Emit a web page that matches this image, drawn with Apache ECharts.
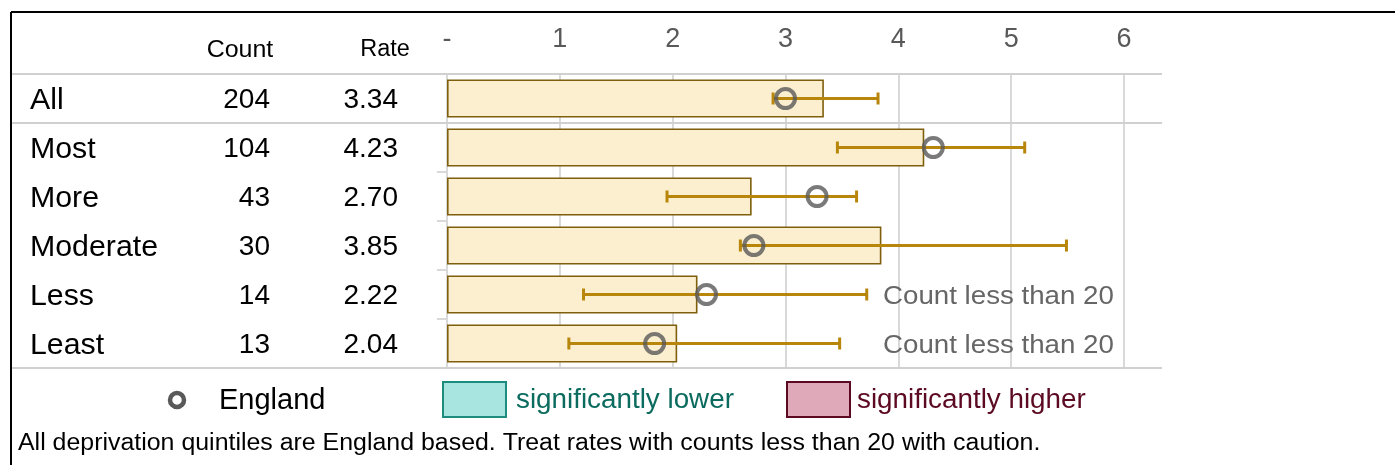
<!DOCTYPE html>
<html>
<head>
<meta charset="utf-8">
<script src="https://cdn.jsdelivr.net/npm/echarts@6/dist/echarts.min.js"></script>
<style>
  html, body { margin: 0; padding: 0; background: #fff; }
  #chart { width: 1395px; height: 465px; }
</style>
</head>
<body>
<div id="chart"></div>
<script>
// Deprivation quintile rates with 95% confidence intervals and England comparator
const categories = ['All', 'Most', 'More', 'Moderate', 'Less', 'Least'];
const counts = [204, 104, 43, 30, 14, 13];
const rates = [3.34, 4.23, 2.70, 3.85, 2.22, 2.04];
const lowerCI = [2.89, 3.46, 1.95, 2.60, 1.21, 1.08];
const upperCI = [3.82, 5.12, 3.63, 5.49, 3.72, 3.48];
const englandRates = [3.00, 4.31, 3.28, 2.72, 2.30, 1.84];
const xTicks = [0, 1, 2, 3, 4, 5, 6];
const headers = ['Count', 'Rate'];
const legendItems = ['England', 'significantly lower', 'significantly higher'];
const footnote = 'All deprivation quintiles are England based. Treat rates with counts less than 20 with caution.';
const smallCountNote = 'Count less than 20';
const smallCountLimit = 20;

const FONT = '"Liberation Sans", Arial, sans-serif';
const GRID_LINE = '#d9d9d9';
const BAR_FILL = '#fcefd0';
const BAR_EDGE = '#7f5f0c';
const CI_COLOR = '#b8860b';
const ENG_COLOR = '#595959';

const chart = echarts.init(document.getElementById('chart'), null, { renderer: 'canvas' });

const option = {
  animation: false,
  grid: { left: 447, right: 271, top: 74, height: 294 },
  xAxis: {
    type: 'value',
    position: 'top',
    min: 0,
    max: 6,
    interval: 1,
    axisLine: { show: false },
    axisTick: { show: false },
    axisLabel: {
      margin: 21,
      fontFamily: FONT,
      fontSize: 27,
      color: '#595959',
      formatter: v => (v === 0 ? '-' : String(xTicks[v]))
    },
    splitLine: { show: true, lineStyle: { color: GRID_LINE, width: 2 } }
  },
  yAxis: {
    type: 'category',
    inverse: true,
    data: categories,
    axisLine: { show: true, lineStyle: { color: GRID_LINE, width: 2 } },
    axisTick: { show: true, length: 10, lineStyle: { color: GRID_LINE, width: 2 } },
    axisLabel: { show: false },
    splitLine: { show: false }
  },
  series: [
    {
      type: 'bar',
      data: rates,
      barWidth: 38,
      itemStyle: { color: BAR_FILL, borderColor: BAR_EDGE, borderWidth: 1.6 },
      z: 2
    },
    {
      type: 'custom',
      z: 3,
      data: categories.map((c, i) => [i, lowerCI[i], upperCI[i]]),
      encode: { x: [1, 2], y: 0 },
      renderItem: (params, api) => {
        const i = api.value(0);
        const p0 = api.coord([api.value(1), i]);
        const p1 = api.coord([api.value(2), i]);
        const cap = 6;
        const style = { stroke: CI_COLOR, lineWidth: 3 };
        return {
          type: 'group',
          children: [
            { type: 'line', shape: { x1: p0[0], y1: p0[1], x2: p1[0], y2: p1[1] }, style },
            { type: 'line', shape: { x1: p0[0], y1: p0[1] - cap, x2: p0[0], y2: p0[1] + cap }, style },
            { type: 'line', shape: { x1: p1[0], y1: p1[1] - cap, x2: p1[0], y2: p1[1] + cap }, style }
          ]
        };
      }
    },
    {
      type: 'scatter',
      z: 4,
      data: englandRates.map((v, i) => [v, i]),
      symbol: 'circle',
      symbolSize: 19,
      itemStyle: { color: 'rgba(0,0,0,0)', borderColor: ENG_COLOR, borderWidth: 4 }
    }
  ]
};

chart.setOption(option);

// text helper: anchored text with an optional horizontal stretch
function label(text, x, y, size, color, align, stretch) {
  return {
    type: 'text',
    x, y,
    scaleX: stretch || 1,
    z: 5,
    style: { text, x: 0, y: 0, align, verticalAlign: 'middle', font: size + 'px ' + FONT, fill: color }
  };
}

// Table, frame lines, legend and footnote, positioned from the chart's own scales
function buildGraphics() {
  const g = [];
  const x6 = chart.convertToPixel({ xAxisIndex: 0 }, 6);
  const rowH = chart.convertToPixel({ yAxisIndex: 0 }, 1) - chart.convertToPixel({ yAxisIndex: 0 }, 0);
  const top = chart.convertToPixel({ yAxisIndex: 0 }, 0) - rowH / 2;
  const bottom = top + rowH * categories.length;
  const lineRight = x6 + 38;

  // outer frame
  g.push({ type: 'line', shape: { x1: 11, y1: 12, x2: 1395, y2: 12 }, style: { stroke: '#000', lineWidth: 2 }, z: 10 });
  g.push({ type: 'line', shape: { x1: 11, y1: 12, x2: 11, y2: 465 }, style: { stroke: '#000', lineWidth: 2 }, z: 10 });

  // table rules
  [top, top + rowH, bottom].forEach(y => {
    g.push({ type: 'line', shape: { x1: 11, y1: y, x2: lineRight, y2: y }, style: { stroke: '#d0d0d0', lineWidth: 2 }, z: 1 });
  });

  // column headers
  const headY = 50;
  g.push(label(headers[0], 240, headY, 24, '#000', 'center', 1.04));
  g.push(label(headers[1], 385, headY, 23, '#000', 'center', 1.02));

  categories.forEach((c, i) => {
    const y = chart.convertToPixel({ yAxisIndex: 0 }, i) + 2;
    g.push(label(c, 30, y, 30, '#000', 'left', 1.01));
    g.push(label(String(counts[i]), 270, y, 28, '#000', 'right', 1));
    g.push(label(rates[i].toFixed(2), 398, y, 28, '#000', 'right', 1));
    if (counts[i] < smallCountLimit) {
      g.push(label(smallCountNote, 883, y, 26, '#666', 'left', 1.065));
    }
  });

  // legend
  const ly = 401;
  g.push({ type: 'circle', shape: { cx: 177, cy: ly - 1, r: 7 }, style: { fill: 'none', stroke: ENG_COLOR, lineWidth: 4.5 } });
  g.push(label(legendItems[0], 219, ly, 29, '#000', 'left', 1));
  g.push({ type: 'rect', shape: { x: 443, y: 382, width: 63, height: 35 }, style: { fill: '#a8e4e0', stroke: '#1d8c7e', lineWidth: 2 } });
  g.push(label(legendItems[1], 516, ly, 27, '#0b6b5e', 'left', 1.03));
  g.push({ type: 'rect', shape: { x: 787, y: 382, width: 63, height: 35 }, style: { fill: '#e0a9b9', stroke: '#5c0a22', lineWidth: 2 } });
  g.push(label(legendItems[2], 857, ly, 27, '#5c0a22', 'left', 1.03));

  // footnote
  g.push(label(footnote, 18, 444, 23.5, '#000', 'left', 1.06));

  chart.setOption({ graphic: { elements: g } });
}
buildGraphics();
</script>
</body>
</html>
